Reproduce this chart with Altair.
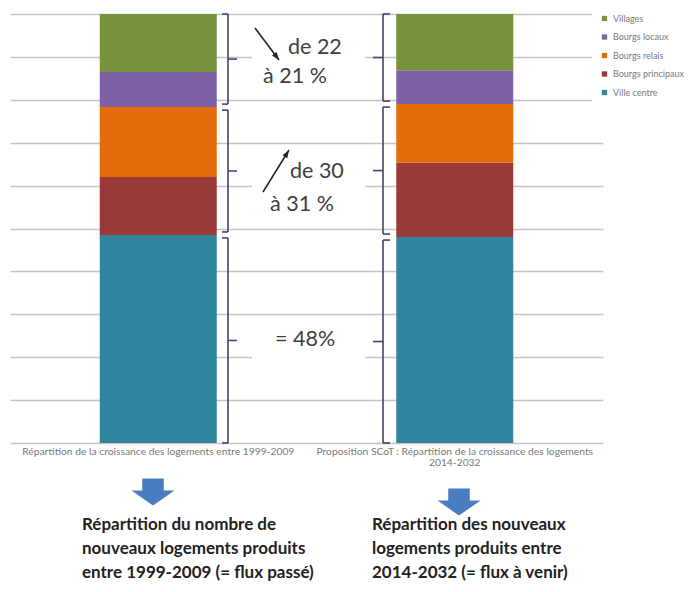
import altair as alt
import pandas as pd
import math

# ---------------- data ----------------
periods = [
    "Répartition de la croissance des logements entre 1999-2009",
    "Proposition SCoT : Répartition de la croissance des logements|2014-2032",
]
series = ["Ville centre", "Bourgs principaux", "Bourgs relais", "Bourgs locaux", "Villages"]
share_1999_2009 = [48.5, 13.5, 16.3, 8.2, 13.5]
share_2014_2032 = [48.0, 17.3, 13.7, 7.9, 13.1]
series_colors = ["#31859C", "#983A38", "#E46C0A", "#7F62A6", "#77933C"]

# groups of series bracketed between the bars (indices into series)
groups = [[0], [1, 2], [3, 4]]
annotation_texts = ["de 22", "à 21 %", "de 30", "à 31 %", "= 48%"]
captions = [
    "Répartition du nombre de\nnouveaux logements produits\nentre 1999-2009 (= flux passé)",
    "Répartition des nouveaux\nlogements produits entre\n2014-2032 (= flux à venir)",
]

# ---------------- layout (pixels, plot coordinates) ----------------
annotation_xy = [(278, 34), (253, 63), (280, 158), (260, 191), (265, 326)]
arrow_lines = [((245, 14), (269, 46)), ((253, 178), (279, 136))]
caption_xy = [(72, 516), (362, 516)]
block_arrow_xy = [(143, 478), (449, 488)]

FONT = "Lato"

rows = []
for p, vals in zip(periods, [share_1999_2009, share_2014_2032]):
    for i, (s, v) in enumerate(zip(series, vals)):
        rows.append({"period": p, "series": s, "share": v, "rank": i})
df = pd.DataFrame(rows)

legend_order = series[::-1]
legend_colors = series_colors[::-1]

yscale = alt.Scale(domain=[0, 100], nice=False)

bars = alt.Chart(df).mark_bar(size=117).encode(
    x=alt.X(
        "period:N",
        sort=periods,
        scale=alt.Scale(paddingInner=0, paddingOuter=0),
        axis=alt.Axis(
            title=None,
            labelExpr="split(datum.label, '|')",
            labelAngle=0,
            ticks=False,
            domain=False,
            grid=False,
            labelFont=FONT,
            labelFontSize=10.3,
            labelColor="#7a7a7a",
            labelPadding=3,
            labelLimit=400,
            labelLineHeight=11,
        ),
    ),
    y=alt.Y(
        "share:Q",
        stack="zero",
        scale=yscale,
        axis=alt.Axis(
            title=None,
            values=list(range(0, 101, 10)),
            labels=False,
            ticks=False,
            domain=False,
            grid=True,
            gridColor="#c4c4c4",
            gridWidth=1.5,
        ),
    ),
    color=alt.Color(
        "series:N",
        scale=alt.Scale(domain=legend_order, range=legend_colors),
        legend=alt.Legend(
            title=None,
            orient="none",
            legendX=582,
            legendY=-8,
            symbolType="square",
            symbolSize=28,
            symbolStrokeWidth=0,
            labelFont=FONT,
            labelFontSize=9,
            labelColor="#7a7a7a",
            labelOffset=4,
            rowPadding=8.5,
            padding=8,
            fillColor="white",
        ),
    ),
    order=alt.Order("rank:Q"),
)


def bounds(vals, gap=0.7):
    cum = [0.0]
    for v in vals:
        cum.append(cum[-1] + v)
    out = []
    for g in groups:
        lo, hi = cum[g[0]], cum[g[-1] + 1]
        lo2 = lo + gap if lo > 0.01 else 0.0
        hi2 = hi - gap if hi < 99.99 else 100.0
        out.append({"lo": lo2, "hi": hi2, "mid": (lo2 + hi2) / 2,
                    "mlo": (lo + hi) / 2 - 5, "mhi": (lo + hi) / 2 + 5})
    return pd.DataFrame(out)


b1 = bounds(share_1999_2009)
b2 = bounds(share_2014_2032)

# white boxes behind annotation texts (hide gridlines there)
masks = alt.Chart(b1).mark_rect(color="white").encode(
    x=alt.value(242), x2=alt.value(355),
    y=alt.Y("mlo:Q", scale=yscale, title=None), y2="mhi:Q",
)

brace_color = "#3d4866"
layers = [bars, masks]
for bdf, xl, xh, xt in [(b1, 218, 212, 227), (b2, 373, 380, 363)]:
    ends = pd.DataFrame({"yend": list(bdf["lo"]) + list(bdf["hi"])})
    layers.append(alt.Chart(bdf).mark_rule(color=brace_color, strokeWidth=1.6).encode(
        x=alt.value(xl), y=alt.Y("lo:Q", scale=yscale, title=None), y2="hi:Q"))
    layers.append(alt.Chart(ends).mark_rule(color=brace_color, strokeWidth=1.6).encode(
        x=alt.value(xl), x2=alt.value(xh), y=alt.Y("yend:Q", scale=yscale, title=None)))
    layers.append(alt.Chart(bdf).mark_rule(color=brace_color, strokeWidth=1.6).encode(
        x=alt.value(xl), x2=alt.value(xt), y=alt.Y("mid:Q", scale=yscale, title=None)))

one = pd.DataFrame({"k": [0]})

for t, (px, py) in zip(annotation_texts, annotation_xy):
    layers.append(alt.Chart(one).mark_text(
        align="left", baseline="middle", font=FONT, fontSize=21.5, color="#404040"
    ).encode(x=alt.value(px), y=alt.value(py), text=alt.value(t)))

for (x0, y0), (x1, y1) in arrow_lines:
    layers.append(alt.Chart(one).mark_rule(color="#222222", strokeWidth=1.5).encode(
        x=alt.value(x0), y=alt.value(y0), x2=alt.value(x1), y2=alt.value(y1)))
    ang = math.degrees(math.atan2(x1 - x0, -(y1 - y0))) % 360
    layers.append(alt.Chart(one).mark_point(
        shape="M0,0 L0.55,1.5 L-0.55,1.5 Z", filled=True, size=110, angle=ang,
        color="#222222", opacity=1, strokeWidth=0
    ).encode(x=alt.value(x1), y=alt.value(y1)))

block_arrow = "M-0.5,-0.63 L0.5,-0.63 L0.5,-0.07 L1,-0.07 L0,0.63 L-1,-0.07 L-0.5,-0.07 Z"
for (px, py) in block_arrow_xy:
    layers.append(alt.Chart(one).mark_point(
        shape=block_arrow, filled=True, size=1849, color="#4a7cc0", opacity=1, strokeWidth=0
    ).encode(x=alt.value(px), y=alt.value(py)))

for cap, (px, py) in zip(captions, caption_xy):
    layers.append(alt.Chart(one).mark_text(
        align="left", baseline="alphabetic", font=FONT, fontSize=17, fontWeight="bold",
        color="#222222", lineBreak="\n", lineHeight=24
    ).encode(x=alt.value(px), y=alt.value(py), text=alt.value(cap)))

chart = alt.layer(*layers).properties(
    width=593,
    height=429,
    padding={"left": 2, "top": 6, "right": 86, "bottom": 141},
    autosize=alt.AutoSizeParams(type="none"),
    background="white",
).configure_view(strokeWidth=0)

chart.save("out.html", embed_options={"renderer": "svg", "actions": False})
